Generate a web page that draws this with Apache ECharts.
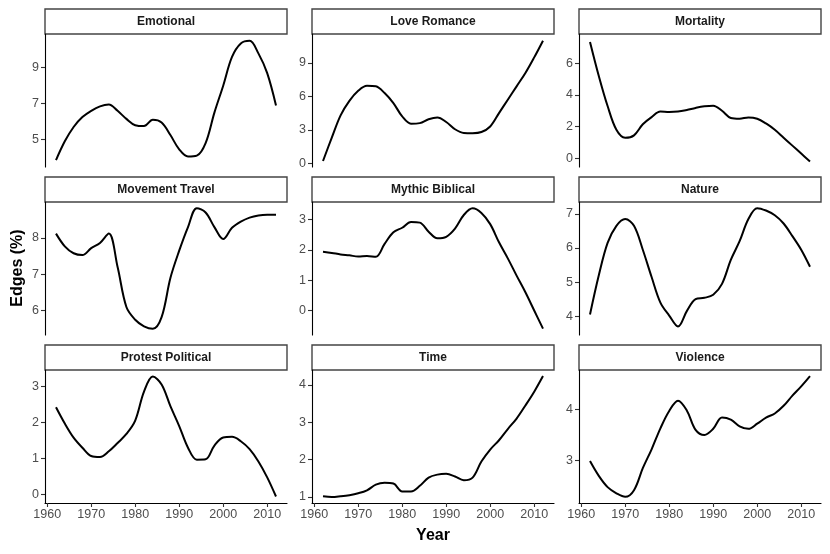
<!DOCTYPE html>
<html>
<head>
<meta charset="utf-8">
<script src="https://cdn.jsdelivr.net/npm/echarts@6/dist/echarts.min.js"></script>
<style>
html,body{margin:0;padding:0;background:#fff;}
#chart{width:830px;height:554px;}
</style>
</head>
<body>
<div id="chart"></div>
<script>
// ---- data ----
const years = [1962,1964,1966,1968,1970,1972,1974,1976,1978,1980,1982,1984,1986,1988,1990,1992,1994,1996,1998,2000,2002,2004,2006,2008,2010,2012];

const emotional       = [3.85,4.9,5.7,6.25,6.6,6.85,6.95,6.6,6.15,5.8,5.75,6.1,5.95,5.25,4.45,4.05,4.1,4.8,6.5,8.0,9.6,10.35,10.5,9.8,8.7,6.9];
const loveRomance     = [0.2,2.3,4.3,5.6,6.5,6.95,6.9,6.3,5.4,4.2,3.55,3.6,3.95,4.1,3.7,3.05,2.72,2.7,2.8,3.3,4.5,5.7,6.9,8.1,9.5,11.0];
const mortality       = [7.35,5.2,3.3,1.8,1.3,1.45,2.15,2.6,2.95,2.92,2.95,3.05,3.18,3.28,3.32,3.0,2.55,2.5,2.58,2.5,2.2,1.8,1.3,0.8,0.3,-0.2];
const movementTravel  = [8.12,7.77,7.58,7.53,7.72,7.86,8.12,7.2,6.1,5.75,5.57,5.5,5.82,6.9,7.65,8.3,8.82,8.7,8.3,7.97,8.28,8.45,8.56,8.62,8.64,8.64];
const mythicBiblical  = [1.94,1.9,1.85,1.82,1.78,1.8,1.77,2.2,2.58,2.73,2.92,2.9,2.6,2.38,2.43,2.7,3.15,3.37,3.22,2.85,2.25,1.72,1.15,0.6,0.0,-0.6];
const nature          = [4.05,5.2,6.15,6.65,6.85,6.65,5.95,5.15,4.4,4.02,3.7,4.15,4.5,4.54,4.63,4.95,5.65,6.2,6.85,7.17,7.1,6.96,6.72,6.35,5.95,5.45];
const protestPolitical= [2.42,1.97,1.58,1.3,1.07,1.04,1.2,1.43,1.68,2.05,2.85,3.27,3.05,2.45,1.9,1.3,0.97,0.98,1.36,1.58,1.6,1.48,1.26,0.92,0.48,-0.05];
const timeSeries      = [1.02,1.0,1.02,1.05,1.1,1.18,1.33,1.38,1.36,1.15,1.15,1.3,1.52,1.6,1.62,1.55,1.45,1.52,1.95,2.27,2.52,2.82,3.1,3.45,3.82,4.24];
const violence        = [2.99,2.7,2.48,2.36,2.29,2.42,2.85,3.22,3.63,3.97,4.17,3.98,3.6,3.5,3.62,3.84,3.8,3.67,3.62,3.72,3.84,3.92,4.07,4.27,4.45,4.65];

const panelTitles = ["Emotional","Love Romance","Mortality","Movement Travel","Mythic Biblical","Nature","Protest Political","Time","Violence"];
const panelValues = [emotional,loveRomance,mortality,movementTravel,mythicBiblical,nature,protestPolitical,timeSeries,violence];

const yTickLabels = [[5,7,9],[0,3,6,9],[0,2,4,6],[6,7,8],[0,1,2,3],[4,5,6,7],[0,1,2,3],[1,2,3,4],[3,4]];
const yLimits = [[3.47,10.88],[-0.34,11.6],[-0.55,7.85],[5.33,8.99],[-0.81,3.58],[3.45,7.35],[-0.23,3.45],[0.84,4.40],[2.17,4.77]];
const xTickLabels = [1960,1970,1980,1990,2000,2010];
const xLimits = [1959.5,2014.5];

// ---- layout ----
const colLeft = [45,312,579];
const rowTop = [34,202,370];
const panelW = 242, panelH = 133, stripH = 25;
const FONT = '"Liberation Sans", Arial, Helvetica, sans-serif';

const grids = [], xAxes = [], yAxes = [], series = [], graphics = [];
panelTitles.forEach((title, i) => {
  const r = Math.floor(i / 3), c = i % 3;
  const left = colLeft[c], top = rowTop[r];
  const bottomRow = r === 2;
  grids.push({left: left, top: top, width: panelW, height: panelH, containLabel: false, outerBoundsMode: 'none'});
  xAxes.push({
    type: 'value', gridIndex: i, min: xLimits[0], max: xLimits[1],
    show: bottomRow,
    axisLine: {show: bottomRow, onZero: false, lineStyle: {color: '#000', width: 1.1}},
    axisTick: {show: bottomRow, length: 4, lineStyle: {color: '#333', width: 1.1}, customValues: xTickLabels},
    axisLabel: {show: bottomRow, color: '#4d4d4d', fontSize: 12.5, fontFamily: FONT, margin: 5,
                customValues: xTickLabels, formatter: v => String(v)},
    splitLine: {show: false}
  });
  yAxes.push({
    type: 'value', gridIndex: i, min: yLimits[i][0], max: yLimits[i][1],
    axisLine: {show: true, onZero: false, lineStyle: {color: '#000', width: 1.1}},
    axisTick: {show: true, length: 4, lineStyle: {color: '#333', width: 1.1}, customValues: yTickLabels[i]},
    axisLabel: {color: '#4d4d4d', fontSize: 12.5, fontFamily: FONT, margin: 6,
                customValues: yTickLabels[i], formatter: v => String(v)},
    splitLine: {show: false}
  });
  series.push({
    type: 'line', xAxisIndex: i, yAxisIndex: i,
    data: years.map((y, k) => [y, panelValues[i][k]]),
    showSymbol: false, smooth: 0.35,
    lineStyle: {color: '#000', width: 2},
    itemStyle: {color: '#000'},
    silent: true, animation: false
  });
  graphics.push({
    type: 'rect', shape: {x: left, y: top - stripH, width: panelW, height: stripH},
    style: {fill: '#fff', stroke: '#444', lineWidth: 1.4}
  });
  graphics.push({
    type: 'text', x: left + panelW / 2, y: top - stripH / 2,
    style: {text: title, fill: '#1a1a1a', font: 'bold 12px ' + FONT, align: 'center', verticalAlign: 'middle'}
  });
});

graphics.push({
  type: 'text', x: 433, y: 536,
  style: {text: 'Year', fill: '#000', font: 'bold 16px ' + FONT, align: 'center', verticalAlign: 'middle'}
});
graphics.push({
  type: 'text', x: 18, y: 268, rotation: Math.PI / 2,
  style: {text: 'Edges (%)', fill: '#000', font: 'bold 16px ' + FONT, align: 'center', verticalAlign: 'middle'}
});

const chart = echarts.init(document.getElementById('chart'), null, {renderer: 'canvas'});
chart.setOption({
  animation: false,
  backgroundColor: '#fff',
  grid: grids, xAxis: xAxes, yAxis: yAxes, series: series,
  graphic: graphics
});
</script>
</body>
</html>
